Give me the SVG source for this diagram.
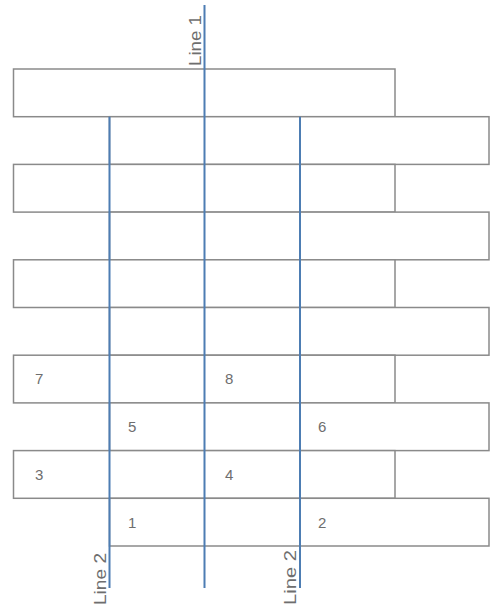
<svg xmlns="http://www.w3.org/2000/svg" width="490" height="608" viewBox="0 0 490 608">
<style>
.brick{fill:#ffffff;stroke:#8a8a8a;stroke-width:1.5}
.line{stroke:#4d7db3;stroke-width:2;fill:none}
.num{font-family:"Liberation Sans",Arial,sans-serif;font-size:15px;fill:#6e6e6e}
.lbl{font-family:"Liberation Sans",Arial,sans-serif;font-size:16px;fill:#6e6e6e}
</style>
<rect width="490" height="608" fill="#ffffff"/>
<g id="bricks">
<g id="row1"><rect class="brick" x="13.5" y="69" width="381.5" height="47.7"/></g>
<g id="row2"><rect class="brick" x="109.5" y="116.7" width="379.5" height="47.7"/></g>
<g id="row3"><rect class="brick" x="13.5" y="164.4" width="381.5" height="47.7"/></g>
<g id="row4"><rect class="brick" x="109.5" y="212.1" width="379.5" height="47.7"/></g>
<g id="row5"><rect class="brick" x="13.5" y="259.8" width="381.5" height="47.7"/></g>
<g id="row6"><rect class="brick" x="109.5" y="307.5" width="379.5" height="47.7"/></g>
<g id="row7"><rect class="brick" x="13.5" y="355.2" width="381.5" height="47.7"/></g>
<g id="row8"><rect class="brick" x="109.5" y="402.9" width="379.5" height="47.7"/></g>
<g id="row9"><rect class="brick" x="13.5" y="450.6" width="381.5" height="47.7"/></g>
<g id="row10"><rect class="brick" x="109.5" y="498.3" width="379.5" height="47.7"/></g>
</g>
<g id="connectors">
<line class="line" x1="204.5" y1="5" x2="204.5" y2="588"/>
<line class="line" x1="109.5" y1="116.7" x2="109.5" y2="588"/>
<line class="line" x1="300" y1="116.7" x2="300" y2="588"/>
</g>
<g id="labels">
<text class="lbl" transform="translate(201,66) rotate(-90)" textLength="51" lengthAdjust="spacingAndGlyphs">Line 1</text>
<text class="lbl" transform="translate(106,605) rotate(-90)" textLength="52" lengthAdjust="spacingAndGlyphs">Line 2</text>
<text class="lbl" transform="translate(296,605) rotate(-90)" textLength="55" lengthAdjust="spacingAndGlyphs">Line 2</text>
</g>
<g id="numbers">
<text class="num" x="35" y="384">7</text>
<text class="num" x="225" y="384">8</text>
<text class="num" x="128" y="432">5</text>
<text class="num" x="318" y="432">6</text>
<text class="num" x="35" y="480">3</text>
<text class="num" x="225" y="480">4</text>
<text class="num" x="128" y="528">1</text>
<text class="num" x="318" y="528">2</text>
</g>
</svg>
